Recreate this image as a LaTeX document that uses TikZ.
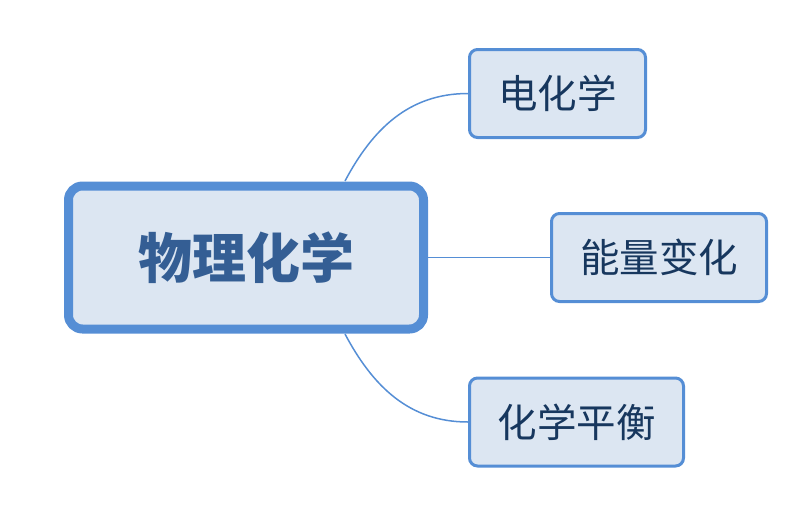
\documentclass[tikz,border=0pt]{standalone}
\usepackage{fontspec}
\usepackage{tikz}
\usetikzlibrary{positioning}
\newfontfamily\cjk{Noto Sans CJK SC}
\definecolor{mapline}{RGB}{85,142,213}
\definecolor{mapfill}{RGB}{220,230,242}
\definecolor{roottext}{RGB}{52,94,148}
\definecolor{leaftext}{RGB}{23,55,94}

\begin{document}
\begin{tikzpicture}[x=1pt, y=-1pt, font=\cjk,
      root/.style={draw=mapline, fill=mapfill, rounded corners=14pt, line width=9pt,
                   minimum width=355pt, minimum height=143pt, text=roottext,
                   font=\cjk\bfseries\fontsize{54}{60}\selectfont},
      leaf/.style={draw=mapline, fill=mapfill, rounded corners=8pt, line width=3pt,
                   minimum height=88pt, text=leaftext,
                   font=\cjk\fontsize{39.5}{44}\selectfont},
      branch/.style={draw=mapline, line width=1.5pt}]
    \useasboundingbox (0,0) rectangle (792,512);
    \node[root] (phys) at (246,257.5) {物理化学};
    \node[leaf, minimum width=176pt] (elec) at (557.5,93.5) {电化学};
    \node[leaf, minimum width=215pt] (energy) at (659,257.5) {能量变化};
    \node[leaf, minimum width=214pt] (equil) at (576.5,422) {化学平衡};
    \coordinate (uptop) at (345,181);
    \coordinate (downbot) at (345,334);

    \draw[branch] (uptop) to[out=62, in=180] (elec.west);
    \draw[branch] (phys.east) -- (energy.west);
    \draw[branch] (downbot) to[out=-62, in=180] (equil.west);
  \end{tikzpicture}
\end{document}
